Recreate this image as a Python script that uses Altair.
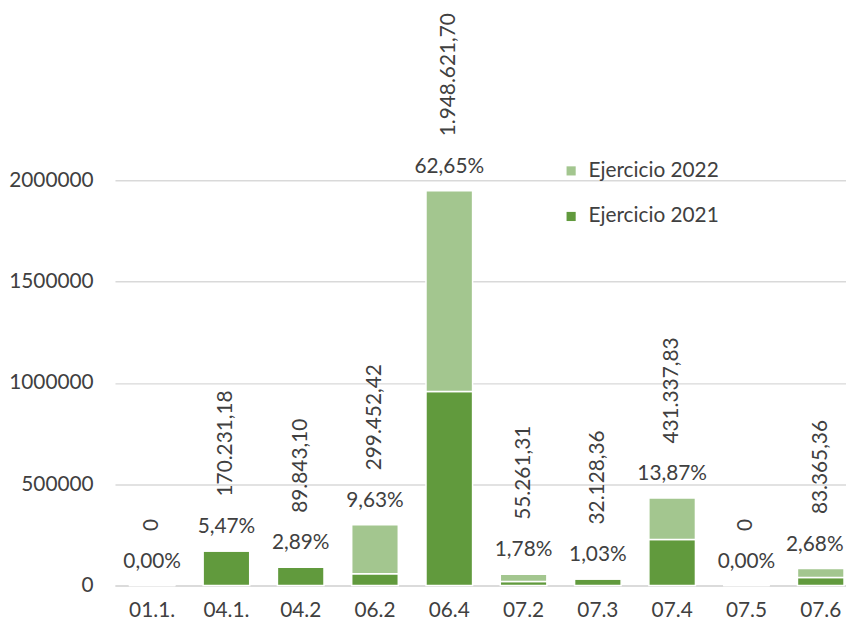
import altair as alt
import pandas as pd

categories = ["01.1.", "04.1.", "04.2", "06.2", "06.4", "07.2", "07.3", "07.4", "07.5", "07.6"]
ejercicio_2021 = [0, 170231.18, 89843.10, 58000, 958000, 20000, 32128.36, 227000, 0, 39000]
ejercicio_2022 = [0, 0, 0, 241452.42, 990621.70, 35261.31, 0, 204337.83, 0, 44365.36]
pct_labels = ["0,00%", "5,47%", "2,89%", "9,63%", "62,65%", "1,78%", "1,03%", "13,87%", "0,00%", "2,68%"]
total_labels = ["0", "170.231,18", "89.843,10", "299.452,42", "1.948.621,70", "55.261,31",
                "32.128,36", "431.337,83", "0", "83.365,36"]
series = ["Ejercicio 2022", "Ejercicio 2021"]
colors = ["#a3c68f", "#619a3d"]

rows = []
for c, a, b in zip(categories, ejercicio_2021, ejercicio_2022):
    rows.append({"cat": c, "serie": "Ejercicio 2021", "valor": a, "ord": 0})
    rows.append({"cat": c, "serie": "Ejercicio 2022", "valor": b, "ord": 1})
bars_df = pd.DataFrame(rows)

tot_df = pd.DataFrame({
    "cat": categories,
    "total": [a + b for a, b in zip(ejercicio_2021, ejercicio_2022)],
    "pct": pct_labels,
    "lbl": total_labels,
})

FONT = "Lato"
TXT = "#404040"

xscale = alt.Scale(domain=categories, paddingInner=0.373, paddingOuter=0.1865)
xenc = alt.X("cat:N", sort=categories, title=None, scale=xscale,
             axis=alt.Axis(labelAngle=0, ticks=False, domainColor="#d9d9d9", domainWidth=1.5,
                           labelFont=FONT, labelFontSize=21, labelColor=TXT, labelPadding=14,
                           grid=False))
yscale = alt.Scale(domain=[0, 2000000], nice=False)

bars = alt.Chart(bars_df).mark_bar(stroke="white", strokeWidth=1.5).encode(
    x=xenc,
    y=alt.Y("valor:Q", stack="zero", scale=yscale, title=None,
            axis=alt.Axis(values=[0, 500000, 1000000, 1500000, 2000000], format="d",
                          ticks=False, domain=False, gridColor="#d9d9d9", gridWidth=1.5,
                          labelFont=FONT, labelFontSize=21, labelColor=TXT, labelPadding=22)),
    color=alt.Color("serie:N", scale=alt.Scale(domain=series, range=colors),
                    legend=alt.Legend(orient="none", legendX=450, legendY=-20, title=None,
                                      symbolType="square", symbolSize=85, symbolStrokeWidth=0,
                                      labelFont=FONT, labelFontSize=21, labelColor=TXT,
                                      rowPadding=24, labelOffset=7)),
    order=alt.Order("ord:Q"),
)

last_cat = categories[-1]

pct = alt.Chart(tot_df).transform_filter(
    alt.datum.cat != last_cat
).mark_text(font=FONT, fontSize=21, color=TXT, baseline="middle", dy=-24).encode(
    x=alt.X("cat:N", sort=categories, scale=xscale),
    y=alt.Y("total:Q", scale=yscale),
    text="pct:N",
)

pct_edge = alt.Chart(tot_df).transform_filter(
    alt.datum.cat == last_cat
).mark_text(font=FONT, fontSize=21, color=TXT, baseline="middle", dy=-24, dx=-6).encode(
    x=alt.X("cat:N", sort=categories, scale=xscale),
    y=alt.Y("total:Q", scale=yscale),
    text="pct:N",
)

vals = alt.Chart(tot_df).mark_text(font=FONT, fontSize=21, color=TXT, baseline="middle",
                                   align="left", angle=270, dx=55).encode(
    x=alt.X("cat:N", sort=categories, scale=xscale),
    y=alt.Y("total:Q", scale=yscale),
    text="lbl:N",
)

chart = alt.layer(bars, pct, pct_edge, vals).properties(
    width=750, height=409,
    autosize=alt.AutoSizeParams(type="none"),
    padding={"left": 108, "top": 171, "right": -12, "bottom": 40},
).configure_view(stroke=None)

chart.save("out.html", embed_options={"renderer": "svg", "actions": False})
